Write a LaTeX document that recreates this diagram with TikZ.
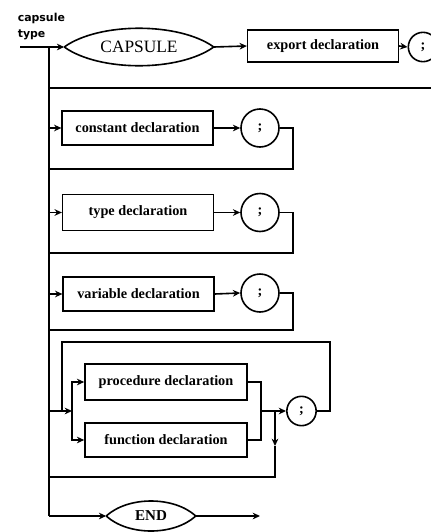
\documentclass[tikz,border=0pt]{standalone}
\usepackage{fontspec}
\setmainfont{Liberation Serif}
\newfontfamily\labelfont{DejaVu Sans}
\usetikzlibrary{arrows.meta, shapes.geometric}
\newcommand\declfont{\fontsize{10.7}{12}\selectfont\bfseries}

\begin{document}
\begin{tikzpicture}[x=0.75pt, y=-0.75pt, line width=1.2pt,
    >={Stealth[length=5.5pt,width=5pt]},
    decl/.style = {draw, rectangle, minimum width=113pt, minimum height=25.5pt, inner sep=0pt, font=\declfont},
    wide/.style = {decl, minimum width=121.5pt},
    semi/.style = {draw, circle, minimum size=28.5pt, inner sep=0pt, font=\declfont},
    small/.style = {semi, minimum size=22pt},
    lens/.style = {ellipse, inner sep=0pt}]
  \useasboundingbox (0,0) rectangle (431,532);

  \node[anchor=north west, align=left, inner sep=0pt, font=\labelfont\fontsize{8.2}{12}\selectfont\bfseries] (title) at (17,12) {capsule\\type};

  \node[lens, minimum width=111pt, minimum height=28.5pt, font=\fontsize{13}{15}\selectfont] (capsule) at (139,47) {CAPSULE};
  \node[decl, minimum height=24pt] (export) at (323,46) {export declaration};
  \node[small] (semi0) at (423,47) {;};
  \node[decl] (const) at (137.5,128) {constant declaration};
  \node[semi] (semi1) at (260,128) {;};
  \node[decl, minimum height=27pt] (type) at (138,212.5) {type declaration};
  \node[semi] (semi2) at (260,212.5) {;};
  \node[decl] (var) at (138.5,294) {variable declaration};
  \node[semi] (semi3) at (260,293) {;};
  \node[wide, minimum height=27pt] (proc) at (166,382) {procedure declaration};
  \node[wide] (func) at (166,440) {function declaration};
  \node[small] (semi4) at (301.5,411) {;};
  \node[lens, minimum width=66pt, minimum height=22.5pt, font=\fontsize{11.3}{13}\selectfont\bfseries] (end) at (151,516) {END};

  \coordinate (in) at (20,47);
  \coordinate (top) at (49,47);
  \coordinate (bot) at (49,516);
  \coordinate (out) at (260,516);
  \coordinate (back0) at (440,88);
  \coordinate (back1) at (49,169);
  \coordinate (back2) at (49,253);
  \coordinate (back3) at (49,330);
  \coordinate (loop) at (62,342); % corner of the repeat loop
  \coordinate (split) at (72,411);
  \coordinate (join) at (261,411);
  \coordinate (skip) at (275,411);
  \coordinate (skipmid) at (275,446);
  \coordinate (skipend) at (275,477);

  % pointed ovals
  \draw (capsule.west) .. controls +(35,-25) and +(-35,-25) .. (capsule.east)
        .. controls +(-35,25) and +(35,25) .. (capsule.west);
  \draw (end.west) .. controls +(22,-20) and +(-22,-20) .. (end.east)
        .. controls +(-22,20) and +(22,20) .. (end.west);

  \draw[->] (in) -- (capsule.west);
  \draw[->] (capsule.east) -- (export.west);
  \draw[->] (export.east) -- (semi0.west);
  \draw (top) -- (bot);
  \draw (back0) -- (back0 -| top);

  \draw[->] (const.west -| top) -- (const.west);
  \draw[->] (const.east) -- (semi1.west);
  \draw (semi1.east) -- ++(13,0) |- (back1);

  \draw[->] (type.west -| top) -- (type.west);
  \draw[->] (type.east) -- (semi2.west);
  \draw (semi2.east) -- ++(13,0) |- (back2);

  \draw[->] (var.west -| top) -- (var.west);
  \draw[->] (var.east) -- (semi3.west);
  \draw (semi3.east) -- ++(13,0) |- (back3);

  \draw[->] (split -| top) -- (split);
  \draw[->] (split) |- (proc.west);
  \draw[->] (split) |- (func.west);
  \draw (proc.east) -| (join);
  \draw (func.east) -| (join);
  \draw[->] (join) -- (semi4.west);
  \draw (semi4.east) -- ++(13,0) |- (loop) -- (split -| loop);
  \draw[->] (skip) -- (skipmid);
  \draw (skipmid) -- (skipend) -- (skipend -| top);

  \draw[->] (bot) -- (end.west);
  \draw[->] (end.east) -- (out);
\end{tikzpicture}
\end{document}
